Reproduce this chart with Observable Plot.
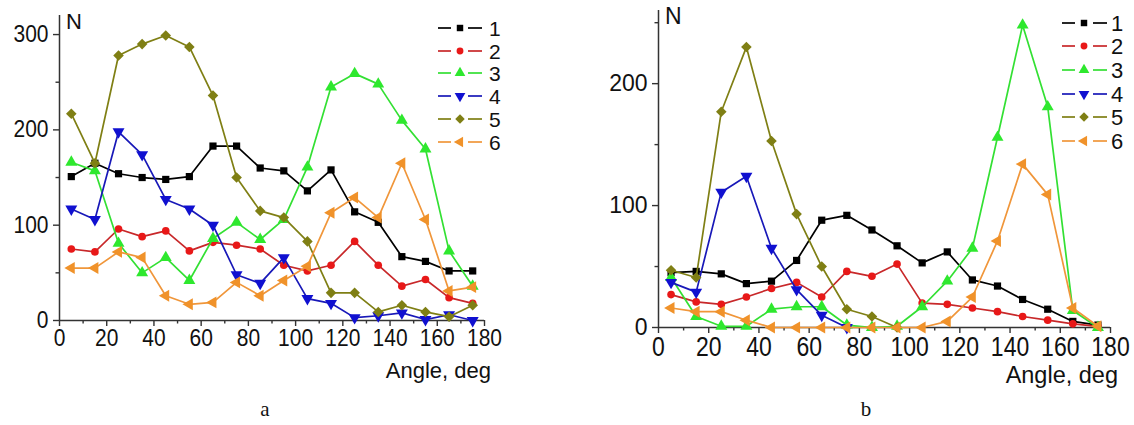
<!DOCTYPE html>
<html><head><meta charset="utf-8">
<script src="https://cdn.jsdelivr.net/npm/d3@7"></script>
<script src="https://cdn.jsdelivr.net/npm/@observablehq/plot@0.6"></script>
<style>
body{margin:0;background:#fff;}
#wrap{position:relative;width:1134px;height:425px;overflow:hidden;font-family:"Liberation Sans",Arial,sans-serif;}
#wrap > .panel{position:absolute;top:0;}
#wrap > svg.overlay{position:absolute;left:0;top:0;pointer-events:none;}
</style></head><body><div id="wrap"></div>
<script>
// ---- data ----
const angles = [5,15,25,35,45,55,65,75,85,95,105,115,125,135,145,155,165,175];
const seriesNames = ["1","2","3","4","5","6"];
const lineColors = ["#000000","#c8282a","#33e033","#1818b8","#7f7f14","#f0963a"];
const markColors = ["#000000","#e81818","#2ee82e","#1010d0","#7f7f14","#f0922a"];
const xMajor = [0,20,40,60,80,100,120,140,160,180];
const xMinor = [10,30,50,70,90,110,130,150,170];

// panel a
const a1 = [151,165,154,150,148,151,183,183,160,157,136,158,114,103,67,62,52,52];
const a2 = [75,72,96,88,94,73,82,79,75,58,52,58,83,58,36,43,24,18];
const a3 = [166,157,81,50,66,42,86,103,85,106,161,245,259,248,210,180,73,36];
const a4 = [117,106,198,174,127,117,100,48,39,66,23,18,3,5,8,1,6,0];
const a5 = [217,165,278,290,299,287,236,150,115,108,83,29,29,9,16,9,4,16];
const a6 = [55,55,72,66,26,17,19,40,26,42,57,113,129,108,165,106,31,35];
const aYMajor = [0,100,200,300];
const aYMinor = [50,150,250];

// panel b (null = no point)
const b1 = [45,46,44,36,38,55,88,92,80,67,53,62,39,34,23,15,5,2];
const b2 = [27,21,19,25,32,37,25,46,42,52,20,19,16,13,9,6,3,1];
const b3 = [41,9,1,1,15,17,17,2,0,1,17,38,65,156,248,181,14,0];
const b4 = [37,29,111,124,65,31,10,0,null,null,null,null,null,null,null,null,null,null];
const b5 = [47,41,177,230,153,93,50,15,9,0,null,null,null,null,null,null,null,null];
const b6 = [16,13,13,6,0,0,0,0,0,0,0,5,25,71,134,109,16,1];
const bYMajor = [0,100,200];
const bYMinor = [50,150,250];

// ---- symbols ----
const s3 = Math.sqrt(3);
const triDown = {draw(ctx, size){ const y = -Math.sqrt(size/(s3*3)); ctx.moveTo(0,-y*2); ctx.lineTo(-s3*y, y); ctx.lineTo(s3*y, y); ctx.closePath(); }};
const triLeft = {draw(ctx, size){ const y = -Math.sqrt(size/(s3*3)); ctx.moveTo(y*2,0); ctx.lineTo(-y,-s3*y); ctx.lineTo(-y,s3*y); ctx.closePath(); }};
const diamond = {draw(ctx, size){ const h = Math.sqrt(size/2); ctx.moveTo(0,-h); ctx.lineTo(h,0); ctx.lineTo(0,h); ctx.lineTo(-h,0); ctx.closePath(); }};
const symbols = [d3.symbolSquare, d3.symbolCircle, d3.symbolTriangle, triDown, diamond, triLeft];
const symSizes = [52, 46, 62, 62, 56, 62];

function stretch(svg, sel, k){
  d3.select(svg).selectAll(sel).each(function(){
    const t = this.getAttribute("transform") || "";
    this.setAttribute("transform", t + ` scale(1,${k})`);
  });
}

function makePanel(series, cfg){
  const axisColor = "#333";
  const marks = [
    Plot.axisX({ticks: xMajor, tickSize: 6, tickPadding: 3, fontSize: cfg.fsx, label: null, stroke: axisColor, strokeWidth: 1.4, fill: "#111"}),
    Plot.axisX({ticks: xMinor, tickSize: 3.5, tickFormat: () => "", label: null, stroke: axisColor, strokeWidth: 1.4}),
    Plot.axisY({ticks: cfg.yMajor, tickSize: 6, tickPadding: 5, fontSize: cfg.fsy, label: null, stroke: axisColor, strokeWidth: 1.4, fill: "#111"}),
    Plot.axisY({ticks: cfg.yMinor, tickSize: 3.5, tickFormat: () => "", label: null, stroke: axisColor, strokeWidth: 1.4}),
    Plot.ruleY([0], {stroke: axisColor, strokeWidth: 1.5}),
    Plot.ruleX([0], {stroke: axisColor, strokeWidth: 1.5})
  ];
  series.forEach((vals, i) => {
    const data = angles.map((x, j) => ({x, y: vals[j]}));
    marks.push(Plot.line(data, {x: "x", y: "y", stroke: lineColors[i], strokeWidth: 1.7}));
    marks.push(Plot.dot(data, {x: "x", y: "y", symbol: symbols[i], fill: markColors[i], r: Math.sqrt(symSizes[i]/Math.PI)}));
  });
  const svg = Plot.plot({
    width: cfg.width, height: cfg.height,
    marginLeft: cfg.ml, marginRight: cfg.mr, marginTop: cfg.mt, marginBottom: cfg.mb,
    x: {domain: [0,180]}, y: {domain: [0, cfg.yMax]},
    style: {fontFamily: '"Liberation Sans", Arial, sans-serif', fontSize: "20px", overflow: "visible", background: "transparent"},
    marks
  });
  stretch(svg, 'g[aria-label="x-axis tick label"] text', cfg.kx);
  stretch(svg, 'g[aria-label="y-axis tick label"] text', cfg.ky);
  return svg;
}

const wrap = document.getElementById("wrap");
const pa = makePanel([a1,a2,a3,a4,a5,a6], {width:580, height:400, ml:59, mr:96, mt:15, mb:80, yMax:320, yMajor:aYMajor, yMinor:aYMinor, fsx:21, fsy:21, kx:1.12, ky:1.12});
pa.classList.add("panel"); pa.style.left = "0px";
wrap.appendChild(pa);
const pb = makePanel([b1,b2,b3,b4,b5,b6], {width:554, height:400, ml:78, mr:24, mt:10, mb:73, yMax:260, yMajor:bYMajor, yMinor:bYMinor, fsx:23, fsy:23, kx:1.2, ky:1.02});
pb.classList.add("panel"); pb.style.left = "580px";
wrap.appendChild(pb);

// ---- overlay: titles, legends, captions ----
const ov = d3.select(wrap).append("svg").attr("class","overlay").attr("width",1134).attr("height",425)
  .style("font-family",'"Liberation Sans", Arial, sans-serif');
ov.append("text").attr("x",66).attr("y",29).attr("font-size",22).attr("fill","#111").text("N");
ov.append("text").attr("x",665).attr("y",24).attr("font-size",23).attr("fill","#111").text("N");
ov.append("text").attr("x",491).attr("y",378).attr("text-anchor","end").attr("font-size",22).attr("fill","#111").text("Angle, deg");
ov.append("text").attr("x",1118).attr("y",383).attr("text-anchor","end").attr("font-size",23.5).attr("fill","#111").text("Angle, deg");
ov.append("text").attr("x",265).attr("y",416).attr("text-anchor","middle").attr("font-size",21).attr("font-family",'"Liberation Serif", "Times New Roman", serif').attr("fill","#111").text("a");
ov.append("text").attr("x",866).attr("y",416).attr("text-anchor","middle").attr("font-size",21).attr("font-family",'"Liberation Serif", "Times New Roman", serif').attr("fill","#111").text("b");

function legend(g, L){
  seriesNames.forEach((name, i) => {
    const y = L.ys[i];
    g.append("line").attr("x1",L.x1).attr("x2",L.x2).attr("y1",y).attr("y2",y).attr("stroke",lineColors[i]).attr("stroke-width",1.7);
    g.append("line").attr("x1",L.x3).attr("x2",L.x4).attr("y1",y).attr("y2",y).attr("stroke",lineColors[i]).attr("stroke-width",1.7);
    g.append("path").attr("transform",`translate(${L.xm},${y})`).attr("d", d3.symbol(symbols[i], symSizes[i]*0.8)()).attr("fill",markColors[i]);
    g.append("text").attr("x",L.xt).attr("y",y).attr("dy","0.36em").attr("font-size",L.fs).attr("fill","#111").text(name);
  });
}
legend(ov.append("g"), {x1:438,x2:451,xm:460,x3:468,x4:482,xt:489,ys:[28,51,73,96,119,142],fs:21});
legend(ov.append("g"), {x1:1062,x2:1075,xm:1084,x3:1093,x4:1107,xt:1111,ys:[23,46,70,94,117,141],fs:22});
</script></body></html>
